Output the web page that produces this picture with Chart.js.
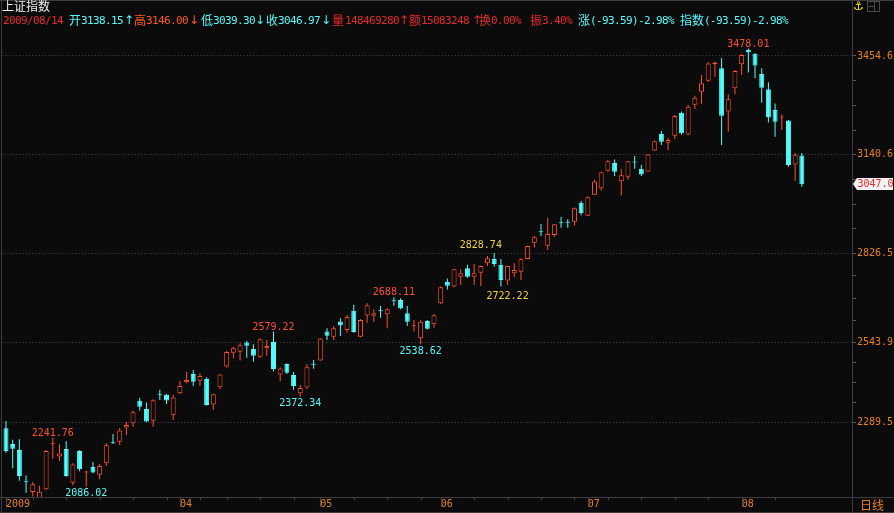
<!DOCTYPE html>
<html>
<head>
<meta charset="utf-8">
<title>上证指数 日线</title>
<script src="https://cdn.jsdelivr.net/npm/chart.js@4.4.0/dist/chart.umd.min.js"></script>
<style>
  html, body { margin: 0; padding: 0; background: #0b0b0b; }
  #wrap { position: relative; width: 894px; height: 513px; overflow: hidden; background: #0b0b0b; }
  #chart { position: absolute; left: 0; top: 0; }
  .t { position: absolute; white-space: pre; }
  .a { font: 11px/11px "DejaVu Sans Mono", monospace; letter-spacing: -0.62px; top: 15px; }
  .c { font: 12px/12px "Noto Sans CJK SC", sans-serif; top: 14px; }
  .r { font: 12px/12px "DejaVu Sans", sans-serif; top: 14px; }
  .ln { position: absolute; background: #3c3c3c; }
</style>
</head>
<body>
<div id="wrap">
  <canvas id="chart" width="894" height="513"></canvas>
  <div class="ln" style="left:0;top:0;width:894px;height:1px"></div>
  <div class="ln" style="left:1px;top:0;width:1px;height:513px"></div>
  <div class="ln" style="left:852px;top:0;width:1px;height:513px"></div>
  <div class="ln" style="left:0;top:497px;width:894px;height:1px"></div>
  <div class="ln" style="left:0;top:512px;width:894px;height:1px"></div>
  <div class="t" style="left:2px;top:0;font:12px/12px 'Noto Sans CJK SC',sans-serif;color:#f0f0f0">上证指数</div>
  <div class="t" style="left:853px;top:0;font:12px/12px 'DejaVu Sans',sans-serif;color:#f2e614">⚓</div>
  <div style="position:absolute;left:867px;top:1px;width:11px;height:9px;border:1px solid #4a4a4a"></div>
  <div style="position:absolute;left:874px;top:1px;width:1px;height:11px;background:#4a4a4a"></div>
  <div style="position:absolute;left:867px;top:6px;width:8px;height:1px;background:#4a4a4a"></div>
  <div class="t" style="left:860px;top:499px;font:12px/12px 'Noto Sans CJK SC',sans-serif;color:#e8801e">日线</div>
  <div id="head"></div>
</div>
<script>
////////////////////////////////////////////////////////////////////////
// Data: trading days shown, one candle each
const tradingDays = [
    ['2009-02', [24, 25, 26, 27]],
    ['2009-03', [2, 3, 4, 5, 6, 9, 10, 11, 12, 13, 16, 17, 18, 19, 20, 23, 24, 25, 26, 27, 30, 31]],
    ['2009-04', [1, 2, 3, 7, 8, 9, 10, 13, 14, 15, 16, 17, 20, 21, 22, 23, 24, 27, 28, 29, 30]],
    ['2009-05', [4, 5, 6, 7, 8, 11, 12, 13, 14, 15, 18, 19, 20, 21, 22, 25, 26, 27]],
    ['2009-06', [1, 2, 3, 4, 5, 8, 9, 10, 11, 12, 15, 16, 17, 18, 19, 22, 23, 24, 25, 26, 29, 30]],
    ['2009-07', [1, 2, 3, 6, 7, 8, 9, 10, 13, 14, 15, 16, 17, 20, 21, 22, 23, 24, 27, 28, 29, 30, 31]],
    ['2009-08', [3, 4, 5, 6, 7, 10, 11, 12, 13, 14]]
]
const categories = tradingDays.flatMap(([m, days]) => days.map(d => m + '-' + String(d).padStart(2, '0')))

const opens = [
    2272, 2222, 2203, 2102, 2069, 2048, 2078, 2223, 2182, 2206,
    2099, 2200, 2131, 2149, 2124, 2161, 2228, 2229, 2274, 2288,
    2359, 2333, 2296, 2380, 2378, 2315, 2383, 2418, 2444, 2423,
    2428, 2347, 2402, 2468, 2512, 2515, 2544, 2524, 2499, 2526,
    2546, 2443, 2476, 2441, 2383, 2401, 2476, 2487, 2579, 2563,
    2611, 2584, 2645, 2563, 2630, 2629, 2646, 2634, 2677, 2679,
    2637, 2596, 2558, 2613, 2602, 2669, 2737, 2722, 2753, 2780,
    2753, 2766, 2796, 2810, 2791, 2741, 2764, 2769, 2810, 2861,
    2897, 2852, 2886, 2925, 2927, 2928, 2988, 2947, 3014, 3034,
    3090, 3115, 3057, 3071, 3118, 3096, 3088, 3154, 3207, 3179,
    3201, 3274, 3205, 3300, 3341, 3376, 3429, 3416, 3278, 3352,
    3428, 3474, 3462, 3397, 3349, 3283, 3259, 3250, 3110, 3138.15
]
const highs = [
    2295, 2235, 2237, 2122, 2101, 2089, 2203, 2241.76, 2221, 2231,
    2161, 2202, 2136, 2165, 2158, 2224, 2254, 2272, 2292, 2328,
    2368, 2354, 2364, 2394, 2381, 2378, 2422, 2451, 2457, 2447,
    2434, 2381, 2444, 2518, 2531, 2542, 2549, 2539, 2558, 2552,
    2579.22, 2466, 2478, 2451, 2409, 2475, 2489, 2558, 2590, 2597,
    2621, 2632, 2664, 2619, 2669, 2650, 2660, 2653, 2688.11, 2685,
    2660, 2616, 2616, 2616, 2634, 2722, 2748, 2778, 2777, 2791,
    2794, 2788, 2819, 2828.74, 2810, 2788, 2796, 2812, 2852, 2883,
    2921, 2941, 2921, 2944, 2936, 2973, 2994, 3008, 3061, 3087,
    3124, 3126, 3096, 3121, 3137, 3108, 3143, 3186, 3216, 3195,
    3267, 3278, 3299, 3328, 3394, 3435, 3436, 3447, 3333, 3410,
    3461, 3478.01, 3463, 3416, 3371, 3304, 3269, 3251, 3146, 3146.00
]
const lows = [
    2194, 2145, 2105, 2067, 2055, 2037, 2076, 2175, 2168, 2118,
    2091, 2135, 2086.02, 2129, 2110, 2152, 2222, 2219, 2250, 2277,
    2328, 2291, 2277, 2362, 2349, 2298, 2381, 2415, 2406, 2406,
    2344, 2330, 2396, 2464, 2494, 2487, 2496, 2483, 2496, 2502,
    2452, 2422, 2444, 2394, 2372.34, 2396, 2461, 2486, 2552, 2552,
    2565, 2576, 2575, 2561, 2607, 2610, 2623, 2590, 2661, 2650,
    2597, 2579, 2538.62, 2586, 2591, 2667, 2713, 2720, 2727, 2750,
    2727, 2724, 2787, 2785, 2722.22, 2727, 2752, 2743, 2809, 2846,
    2883, 2838, 2880, 2909, 2909, 2915, 2949, 2946, 3013, 3027,
    3087, 3073, 3011, 3061, 3096, 3073, 3087, 3153, 3172, 3156,
    3191, 3204, 3203, 3286, 3302, 3373, 3389, 3172, 3214, 3333,
    3394, 3402, 3384, 3306, 3243, 3198, 3220, 3103, 3058, 3039.30
]
const closes = [
    2200, 2207, 2120, 2100, 2094, 2070, 2200, 2225, 2192, 2120,
    2157, 2142, 2133, 2131, 2152, 2218, 2226, 2265, 2282, 2323,
    2340, 2293, 2361, 2378, 2360, 2370, 2406, 2425, 2420, 2438,
    2346, 2380, 2443, 2514, 2526, 2536, 2534, 2502, 2555, 2533,
    2460, 2462, 2448, 2406, 2400, 2466, 2474, 2557, 2566, 2590,
    2598, 2625, 2578, 2616, 2663, 2637, 2644, 2650, 2675, 2652,
    2610, 2598, 2610, 2588, 2631, 2720, 2725, 2777, 2764, 2753,
    2764, 2787, 2812, 2794, 2743, 2787, 2775, 2809, 2851, 2879,
    2895, 2889, 2920, 2923, 2925, 2971, 2956, 3006, 3056, 3085,
    3120, 3087, 3076, 3120, 3116, 3078, 3142, 3184, 3182, 3188,
    3264, 3209, 3293, 3322, 3368, 3431, 3434, 3265, 3317, 3407,
    3458, 3466, 3424, 3354, 3259, 3246, 3261, 3108, 3140.6, 3046.97
]

// Bottom axis: labelled dates and their labels
const xTickDates = ['2009-02-24', '2009-04-01', '2009-05-04', '2009-06-01', '2009-07-01', '2009-08-03']
const xTickLabels = ['2009', '04', '05', '06', '07', '08']

// Right axis: labelled levels, visible range
const yLevels = [3454.6, 3140.6, 2826.5, 2543.9, 2289.5]
const yMin = 2053.5
const yMax = 3543.5
const emptySlots = 7

// Marked highs and lows
const extremes = [
    { i: 7, v: 2241.76, above: true, tone: 'up' },
    { i: 12, v: 2086.02, above: false, tone: 'down' },
    { i: 40, v: 2579.22, above: true, tone: 'up' },
    { i: 44, v: 2372.34, above: false, tone: 'down' },
    { i: 58, v: 2688.11, above: true, tone: 'up' },
    { i: 62, v: 2538.62, above: false, tone: 'down' },
    { i: 71, v: 2828.74, above: true, tone: 'mark' },
    { i: 75, v: 2722.22, above: false, tone: 'mark' },
    { i: 111, v: 3478.01, above: true, tone: 'up' }
]

// Quote line
const quote = [
    [3, '2009/08/14', 'red'], [69, '开', 'cyan'], [81, '3138.15', 'cyan'], [124, '↑', 'cyan'],
    [134, '高', 'orange'], [146, '3146.00', 'orange'], [189, '↓', 'orange'],
    [201, '低', 'cyan'], [213, '3039.30', 'cyan'], [255, '↓', 'cyan'],
    [266, '收', 'cyan'], [278, '3046.97', 'cyan'], [321, '↓', 'cyan'],
    [332, '量', 'red'], [345, '148469280', 'red'], [399, '↑', 'red'],
    [409, '额', 'red'], [421, '15083248', 'red'], [472, '↑', 'red'],
    [479, '换', 'red'], [491, '0.00%', 'red'],
    [530, '振', 'red'], [542, '3.40%', 'red'],
    [578, '涨', 'cyan'], [590, '(-93.59)-2.98%', 'cyan'],
    [680, '指数', 'cyan'], [704, '(-93.59)-2.98%', 'cyan']
]

////////////////////////////////////////////////////////////////////////
// Styles
const upColor = '#ff5028'
const downColor = '#54fcfc'
const markColor = '#f2d43c'
const bgColor = '#0b0b0b'
const axisText = '#e8801e'
const gridColor = '#4a4a4a'
const tickFont = { family: '"DejaVu Sans Mono", monospace', size: 10 }
const textColors = { red: '#e62a2a', cyan: '#54fcfc', orange: '#ff5a1e' }
const toneColors = { up: upColor, down: downColor, mark: markColor }

// Header text
const head = document.getElementById('head')
quote.forEach(([x, text, color]) => {
    const span = document.createElement('div')
    const kind = /[\u4e00-\u9fff]/.test(text) ? 'c' : (/[↑↓]/.test(text) ? 'r' : 'a')
    span.className = 't ' + kind
    span.style.left = x + 'px'
    span.style.color = textColors[color]
    span.textContent = text
    head.appendChild(span)
})

////////////////////////////////////////////////////////////////////////
// Derived series
const isUp = closes.map((c, i) => c >= opens[i])
const colors = isUp.map(up => up ? upColor : downColor)
const fills = closes.map((c, i) => (!isUp[i] || Math.abs(c - opens[i]) <= 4) ? colors[i] : bgColor)
const bodies = closes.map((c, i) => [opens[i], c])
const wicks = lows.map((l, i) => [l, highs[i]])
const slots = categories.concat(Array(emptySlots).fill(''))

const weekday = s => new Date(s + 'T00:00:00Z').getUTCDay()
const monthLabels = {}
xTickDates.forEach((d, k) => { monthLabels[categories.indexOf(d)] = xTickLabels[k] })
const monthStarts = Object.keys(monthLabels).map(Number)
const weekStarts = categories
    .map((d, i) => (i > 0 && weekday(d) < weekday(categories[i - 1]) && !(i in monthLabels)) ? i : -1)
    .filter(i => i >= 0)

// Right axis ticks: labelled levels plus quarter marks between them
const yTicks = []
yLevels.forEach((v, k) => {
    yTicks.push(v)
    if (k + 1 < yLevels.length) {
        for (let q = 1; q < 4; q++) yTicks.push(v + (yLevels[k + 1] - v) * q / 4)
    }
})
const isLevel = v => yLevels.some(m => Math.abs(m - v) < 0.01)

////////////////////////////////////////////////////////////////////////
// Axis marks, high/low labels and last price tag
const decor = {
    id: 'decor',
    afterDraw(chart) {
        const { ctx, chartArea: a, scales: { x, y } } = chart
        ctx.save()
        ctx.strokeStyle = '#4a4a4a'
        ctx.lineWidth = 1
        ctx.beginPath()
        monthStarts.forEach(i => {
            const px = Math.round(x.getPixelForValue(i)) + 0.5
            ctx.moveTo(px, a.bottom)
            ctx.lineTo(px, a.bottom + 10)
        })
        weekStarts.forEach(i => {
            const px = Math.round(x.getPixelForValue(i)) + 0.5
            ctx.moveTo(px, a.bottom)
            ctx.lineTo(px, a.bottom + 3)
        })
        ctx.stroke()

        ctx.font = '10px "DejaVu Sans Mono", monospace'
        ctx.textAlign = 'center'
        ctx.textBaseline = 'alphabetic'
        extremes.forEach(e => {
            const px = x.getPixelForValue(e.i)
            const py = y.getPixelForValue(e.v)
            const gap = e.tone === 'mark' ? 5 : 2
            ctx.fillStyle = toneColors[e.tone]
            ctx.fillText(e.v.toFixed(2), px, e.above ? py - gap : py + gap + 7.5)
        })

        const last = closes[closes.length - 1]
        const py = Math.round(y.getPixelForValue(last))
        const x0 = a.right + 1
        ctx.fillStyle = '#f4f4f4'
        ctx.beginPath()
        ctx.moveTo(x0, py)
        ctx.lineTo(x0 + 4, py - 6)
        ctx.lineTo(893, py - 6)
        ctx.lineTo(893, py + 6)
        ctx.lineTo(x0 + 4, py + 6)
        ctx.closePath()
        ctx.fill()
        ctx.fillStyle = '#ff1e1e'
        ctx.textAlign = 'left'
        ctx.textBaseline = 'middle'
        ctx.fillText(last.toFixed(1), x0 + 4.5, py + 0.5)
        ctx.restore()
    }
}

////////////////////////////////////////////////////////////////////////
// Chart
new Chart(document.getElementById('chart'), {
    type: 'bar',
    data: {
        labels: slots,
        datasets: [
            {
                label: 'body',
                data: bodies,
                backgroundColor: fills,
                borderColor: colors,
                borderWidth: 1,
                borderSkipped: false,
                barThickness: 5,
                minBarLength: 1,
                inflateAmount: 0,
                grouped: false,
                order: 1
            },
            {
                label: 'wick',
                data: wicks,
                backgroundColor: colors,
                borderWidth: 0,
                barThickness: 1,
                inflateAmount: 0,
                grouped: false,
                order: 2
            }
        ]
    },
    options: {
        responsive: false,
        animation: false,
        events: [],
        layout: { padding: { top: 28, left: 2.65, right: 0, bottom: 0 } },
        plugins: {
            legend: { display: false },
            tooltip: { enabled: false }
        },
        scales: {
            x: {
                type: 'category',
                offset: true,
                grid: { display: false, drawTicks: false },
                border: { display: false },
                ticks: {
                    autoSkip: false,
                    maxRotation: 0,
                    minRotation: 0,
                    align: 'start',
                    padding: 1,
                    color: axisText,
                    font: tickFont,
                    callback: (v, i) => monthLabels[i] || ''
                },
                afterFit: s => { s.height = 16 }
            },
            y: {
                position: 'right',
                min: yMin,
                max: yMax,
                afterBuildTicks: s => { s.ticks = yTicks.map(v => ({ value: v })) },
                afterFit: s => { s.width = 42 },
                grid: {
                    color: c => (c.tick && isLevel(c.tick.value)) ? gridColor : 'rgba(0,0,0,0)',
                    tickColor: '#5a5a5a',
                    tickLength: 4,
                    lineWidth: 1
                },
                border: { display: false, dash: [1, 2.3] },
                ticks: {
                    autoSkip: false,
                    padding: 1,
                    color: axisText,
                    font: tickFont,
                    callback: v => isLevel(v) ? v.toFixed(1) : ''
                }
            }
        }
    },
    plugins: [decor]
})
</script>
</body>
</html>
